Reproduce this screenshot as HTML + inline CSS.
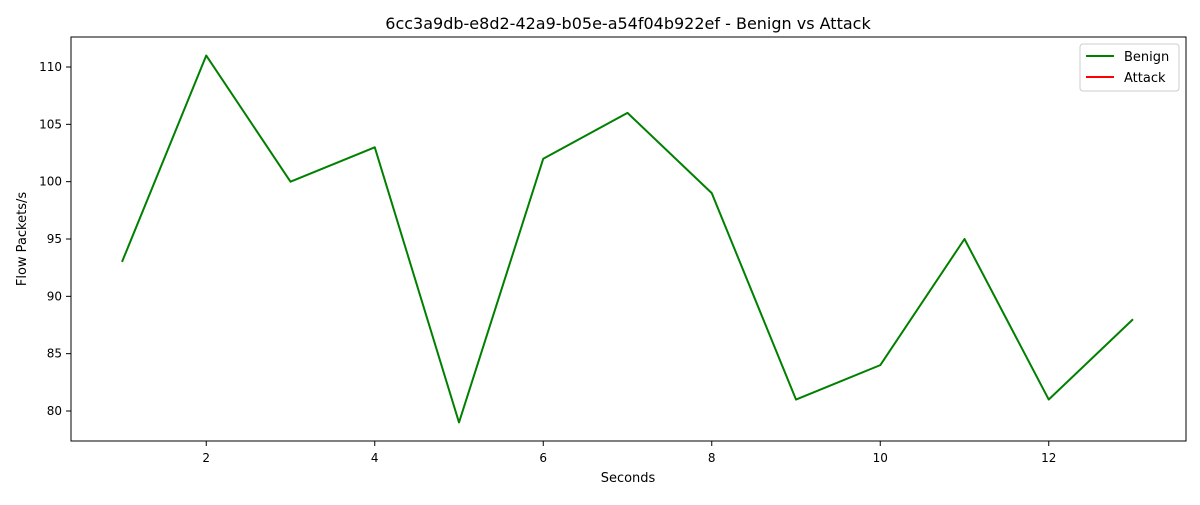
<!DOCTYPE html>
<html><head><meta charset="utf-8"><style>
body{margin:0;background:#fff;font-family:"Liberation Sans","DejaVu Sans",sans-serif;}
svg text{font-family:"DejaVu Sans","Liberation Sans",sans-serif;}
</style></head><body>
<svg id="chart" width="1200" height="500" xmlns="http://www.w3.org/2000/svg">
<rect width="1200" height="500" fill="#fff"/>
<text x="628" y="29" font-size="16" text-anchor="middle">6cc3a9db-e8d2-42a9-b05e-a54f04b922ef - Benign vs Attack</text>
<g id="axes"></g>
<rect x="71" y="37" width="1115" height="404" fill="none" stroke="#000" stroke-width="1"/>
<text x="628" y="482" font-size="13" text-anchor="middle">Seconds</text>
<text transform="translate(26,239) rotate(-90)" font-size="13" text-anchor="middle">Flow Packets/s</text>
<g>
<rect x="1080" y="44" width="99" height="47" rx="3" fill="#fff" stroke="#ccc"/>
<line x1="1086" y1="56" x2="1114" y2="56" stroke="green" stroke-width="2"/>
<text x="1124" y="61" font-size="13">Benign</text>
<line x1="1086" y1="77" x2="1114" y2="77" stroke="red" stroke-width="2"/>
<text x="1124" y="82" font-size="13">Attack</text>
</g>
</svg>
<script>
const seconds=[1,2,3,4,5,6,7,8,9,10,11,12,13];
const benign=[93,111,100,103,79,102,106,99,81,84,95,81,88];
const attack=[];
const xTicks=[2,4,6,8,10,12];
const yTicks=[80,85,90,95,100,105,110];
const NS="http://www.w3.org/2000/svg";
function xs(v){return 122+(v-1)*(1133-122)/12;}
function ys(v){return 411-(v-80)*(411-67)/30;}
const svg=document.getElementById('chart');
const ax=document.getElementById('axes');
function mk(t,a){const e=document.createElementNS(NS,t);for(const k in a)e.setAttribute(k,a[k]);return e;}
xTicks.forEach(t=>{
 const l=mk('line',{x1:xs(t),x2:xs(t),y1:441,y2:446,stroke:'#000'});
 
 
 ax.appendChild(l);
 const tx=mk('text',{x:xs(t),y:462,'font-size':12,'text-anchor':'middle'});
 tx.textContent=t;
 
 
 ax.appendChild(tx);
});
yTicks.forEach(t=>{
 const l=mk('line',{x1:66,x2:71,y1:ys(t),y2:ys(t),stroke:'#000'});
 
 
 ax.appendChild(l);
 const tx=mk('text',{x:62,y:ys(t)+4,'font-size':12,'text-anchor':'end'});
 tx.textContent=t;
 
 
 ax.appendChild(tx);
});
const pts=benign.map((v,i)=>xs(seconds[i])+','+ys(v)).join(' ');
const pl=mk('polyline',{points:pts,fill:'none',stroke:'green','stroke-width':2,'stroke-linejoin':'round'});


svg.appendChild(pl);
if(attack.length){
 const ap=mk('polyline',{points:attack.map((v,i)=>xs(seconds[i])+','+ys(v)).join(' '),fill:'none',stroke:'red','stroke-width':2});
 
 
 svg.appendChild(ap);
}
</script>
</body></html>
